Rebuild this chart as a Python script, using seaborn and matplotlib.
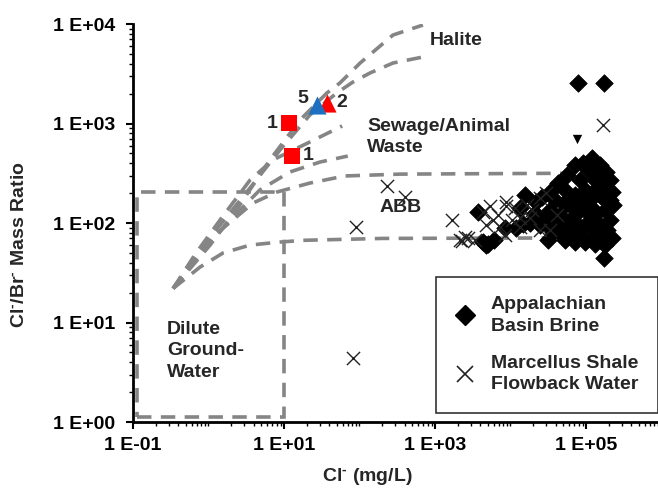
import numpy as np
import matplotlib
matplotlib.use("Agg")
import matplotlib.pyplot as plt
from matplotlib.ticker import FixedLocator, LogLocator, FuncFormatter, NullFormatter
from matplotlib.lines import Line2D
from matplotlib.patches import Rectangle
import seaborn as sns

sns.set_style("ticks")
plt.rcParams['font.family'] = ['Liberation Sans', 'DejaVu Sans']
plt.rcParams['font.weight'] = 'bold'
plt.rcParams['axes.labelweight'] = 'bold'
plt.rcParams['mathtext.fontset'] = 'custom'
plt.rcParams['mathtext.rm'] = 'Liberation Sans:bold'
plt.rcParams['mathtext.bf'] = 'Liberation Sans:bold'
plt.rcParams['mathtext.default'] = 'bf'

# Appalachian Basin Brine (Cl mg/L, Cl/Br)
brine_cl = [3700, 5100, 6000, 8450, 13400, 15600, 22000, 26000, 35500, 42000,
            56000, 71500, 91000, 120000, 153000, 185000, 208000, 190000, 208000, 179000,
            208000, 190000, 220000, 153000, 113000, 83300, 61400, 45300, 33400, 24600,
            18100, 12000, 14500, 97000, 132000, 113000, 97000, 71500, 52700, 45300,
            61400, 83300, 132000, 153000, 153000, 113000, 71500, 52700, 38800, 33400,
            28600, 38800, 83300, 105000, 140000, 165000, 90000, 120000, 66000, 49000,
            145000, 179000, 230000, 220000, 21100, 4700, 4300,
            52700, 71500, 97000, 132000, 79000, 113000, 179000, 153000, 132000, 97000,
            56000, 45300, 37000, 31000,
            78000, 173000, 173000]
brine_ratio = [128, 62, 67, 89, 140, 191, 162, 182, 215, 250,
               304, 383, 400, 450, 383, 325, 271, 215, 170, 135,
               107, 85, 70, 67, 70, 74, 81, 85, 89, 95,
               101, 89, 98, 95, 120, 170, 215, 191, 152, 120,
               107, 135, 271, 191, 95, 95, 135, 215, 170, 135,
               115, 101, 271, 341, 360, 241, 170, 140, 89, 74,
               81, 60, 152, 205, 126, 60, 64,
               67, 64, 64, 62, 95, 120, 170, 304, 215, 152,
               170, 98, 81, 67,
               2535, 2535, 44]
brine_half_cl = [76000]
brine_half_ratio = [700]

# Marcellus Shale flowback water
flow_cl = [168000, 231, 400, 90, 1680, 82, 2300, 2700, 2500, 2140,
           4300, 5350, 6800, 8800, 10500, 13400, 8850, 16500, 19500, 24600,
           30000, 24600, 33400, 7260, 5800, 11500, 13400, 18100, 3390, 4700,
           8450, 41000]
flow_ratio = [966, 235, 182, 91, 107, 4.4, 66, 71, 72, 67,
              128, 149, 120, 149, 107, 91, 163, 152, 135, 178,
              200, 85, 85, 91, 107, 140, 113, 113, 67, 95,
              76, 120]

# samples
sq_cl = [11.6, 12.8]
sq_ratio = [1010, 471]
tri_red_cl = [37]
tri_red_ratio = [1607]
tri_blue_cl = [27.4]
tri_blue_ratio = [1535]

# mixing curves
halite_hi_cl = [0.34, 1.05, 2.6, 6.5, 16.3, 37, 55, 102, 278, 693]
halite_hi_ratio = [22, 60, 152, 430, 1084, 2026, 2553, 4055, 7750, 9770]
halite_lo_cl = [0.34, 0.66, 1.42, 3.55, 8.85, 22, 50, 82, 138, 278, 693]
halite_lo_ratio = [22, 44, 95, 225, 542, 1217, 2026, 2612, 3220, 4055, 4660]
sewage_hi_cl = [0.34, 0.66, 1.42, 3.55, 7.1, 22, 59]
sewage_hi_ratio = [22, 48, 107, 270, 430, 652, 944]
sewage_lo_cl = [0.34, 0.77, 1.93, 4.8, 12, 30, 70]
sewage_lo_ratio = [22, 48, 107, 215, 326, 410, 471]
abb_hi_cl = [0.34, 1.22, 3.9, 8.1, 22, 64, 344, 220000]
abb_hi_ratio = [22, 76, 159, 205, 252, 297, 310, 318]
abb_lo_cl = [0.34, 0.77, 1.56, 3.55, 8.1, 17.9, 200, 220000]
abb_lo_ratio = [22, 36, 50, 60, 64, 67, 70, 71]

box_cl = [0.112, 10]
box_ratio = [1.12, 205]

gray = '#858585'
fs = 14

fig = plt.figure(figsize=(6.58, 4.88), dpi=100)
ax = fig.add_axes([0.2021, 0.1352, 0.7979, 0.8156])

curves = [(halite_hi_cl, halite_hi_ratio), (halite_lo_cl, halite_lo_ratio),
          (sewage_hi_cl, sewage_hi_ratio), (sewage_lo_cl, sewage_lo_ratio),
          (abb_hi_cl, abb_hi_ratio), (abb_lo_cl, abb_lo_ratio)]
for cx, cy in curves:
    sns.lineplot(x=cx, y=cy, sort=False, estimator=None, color=gray, lw=2.6,
                 linestyle=(0, (4, 2.6)), ax=ax, zorder=1)

ax.add_patch(Rectangle((box_cl[0], box_ratio[0]), box_cl[1] - box_cl[0],
                       box_ratio[1] - box_ratio[0], fill=False, edgecolor=gray,
                       lw=2.6, linestyle=(0, (4, 2.6)), zorder=1))

sns.scatterplot(x=brine_cl, y=brine_ratio, marker='D', s=80, color='black',
                edgecolor='black', linewidth=0.5, ax=ax, zorder=3)
sns.scatterplot(x=brine_half_cl, y=brine_half_ratio, marker='v', s=45, color='black',
                edgecolor='black', linewidth=0, ax=ax, zorder=3)
sns.scatterplot(x=flow_cl, y=flow_ratio, marker='x', s=90, color='#222222',
                linewidth=1.0, ax=ax, zorder=4)
sns.scatterplot(x=sq_cl, y=sq_ratio, marker='s', s=120, color='#ff0000',
                linewidth=0, ax=ax, zorder=5)
sns.scatterplot(x=tri_red_cl, y=tri_red_ratio, marker='^', s=170, color='#ff0000',
                linewidth=0, ax=ax, zorder=5)
sns.scatterplot(x=tri_blue_cl, y=tri_blue_ratio, marker='^', s=170, color='#1f6fc0',
                linewidth=0, ax=ax, zorder=6)

# sample counts
ax.text(6.9, 1010, '1', fontsize=fs, ha='center', va='center')
ax.text(20.8, 482, '1', fontsize=fs, ha='center', va='center')
ax.text(17.9, 1800, '5', fontsize=fs, ha='center', va='center')
ax.text(58.7, 1645, '2', fontsize=fs, ha='center', va='center')

ax.text(860, 6900, 'Halite', fontsize=fs, ha='left', va='center')
ax.text(126, 731, 'Sewage/Animal\nWaste', fontsize=fs, ha='left', va='center',
        linespacing=1.35)
ax.text(187, 142, 'ABB', fontsize=fs, ha='left', va='center')
ax.text(0.282, 5.2, 'Dilute\nGround-\nWater', fontsize=fs, ha='left', va='center',
        linespacing=1.35)

ax.set_xscale('log')
ax.set_yscale('log')
ax.set_xlim(0.1, 9e5)
ax.set_ylim(1, 1e4)

ax.xaxis.set_major_locator(FixedLocator([1e-1, 1e1, 1e3, 1e5]))
ax.xaxis.set_minor_locator(LogLocator(base=10, subs=np.arange(1, 10), numticks=100))
ax.yaxis.set_major_locator(LogLocator(base=10, numticks=100))
ax.yaxis.set_minor_locator(LogLocator(base=10, subs=np.arange(2, 10), numticks=100))
fmt = FuncFormatter(lambda v, p: f"1 E{int(round(np.log10(v))):+03d}")
ax.xaxis.set_major_formatter(fmt)
ax.yaxis.set_major_formatter(fmt)
ax.xaxis.set_minor_formatter(NullFormatter())
ax.yaxis.set_minor_formatter(NullFormatter())
ax.tick_params(which='major', direction='out', length=5, width=1.5, labelsize=fs, colors='black')
ax.tick_params(which='minor', direction='out', length=3, width=1, colors='black')
ax.tick_params(axis='y', which='major', pad=8)
ax.tick_params(axis='x', which='major', pad=6)

sns.despine(ax=ax)
for s in ['left', 'bottom']:
    ax.spines[s].set_linewidth(2)
    ax.spines[s].set_color('black')

ax.set_xlabel(r'Cl$^{\text{-}}$ (mg/L)', fontsize=fs, fontweight='bold')
ax.set_ylabel(r'Cl$^{\text{-}}$/Br$^{\text{-}}$ Mass Ratio', fontsize=fs, fontweight='bold')
ax.xaxis.set_label_coords(0.446, -0.11)
ax.yaxis.set_label_coords(-0.20, 0.445)

handles = [Line2D([], [], marker='D', color='black', linestyle='none', markersize=10),
           Line2D([], [], marker='x', color='#222222', linestyle='none', markersize=12,
                  markeredgewidth=1.2)]
labels = ['Appalachian\nBasin Brine', 'Marcellus Shale\nFlowback Water']
leg = ax.legend(handles, labels, loc='upper left', bbox_to_anchor=(0.663, 0.433),
                bbox_transform=fig.transFigure, frameon=True, fancybox=False,
                prop={'size': fs, 'weight': 'bold'}, borderpad=1.0, handlelength=1.0,
                handletextpad=0.8, labelspacing=1.0, borderaxespad=0)
for t in leg.get_texts():
    t.set_linespacing(1.38)
leg.get_frame().set_edgecolor('black')
leg.get_frame().set_linewidth(1.2)
leg.set_zorder(10)

fig.savefig('out.png', dpi=100)
